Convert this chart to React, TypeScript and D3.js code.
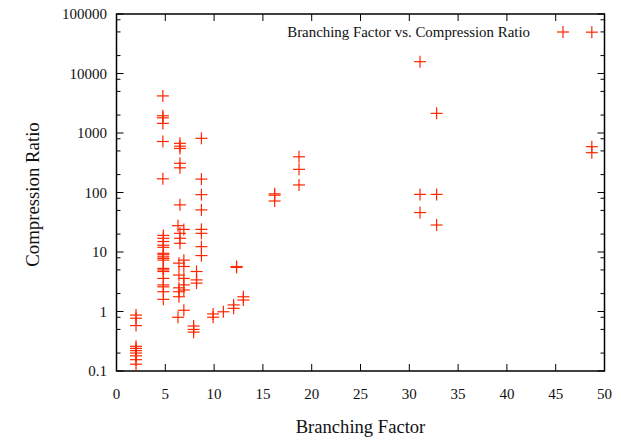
import React, { useRef, useEffect } from 'react'
import * as d3 from 'd3'

// branching factor (x) and compression ratio (y)
const branching = [
  2, 2, 2, 2, 2, 2, 2, 2, 2, 2,
  4.75, 4.75, 4.75, 4.75, 4.75, 4.75,
  4.8, 4.8, 4.8, 4.8, 4.8, 4.8, 4.8, 4.8, 4.8, 4.8, 4.8, 4.8, 4.8, 4.8, 4.8, 4.8, 4.8, 4.8,
  6.5, 6.5, 6.5, 6.5, 6.5, 6.5, 6.3, 6.5, 6.5, 6.5, 6.9,
  6.4, 6.4, 6.4, 6.4, 6.4, 6.3,
  6.9, 6.9, 6.9, 6.9, 6.9, 6.9,
  8.2, 8.2, 8.2, 7.9, 7.9, 7.9,
  8.7, 8.7, 8.7, 8.7, 8.7, 8.7, 8.7, 8.7,
  9.9, 9.9, 10.95, 12, 12, 13, 13, 12.3, 12.3,
  16.2, 16.2, 16.2, 18.7, 18.7, 18.7,
  31.1, 31.1, 31.1, 32.8, 32.8, 32.8,
  48.7, 48.7, 48.7,
]
const ratio = [
  0.87, 0.77, 0.58, 0.26, 0.24, 0.22, 0.2, 0.18, 0.155, 0.13,
  4200, 1950, 1800, 1450, 720, 170,
  19, 17, 15, 13, 12, 9.5, 9, 8.3, 7.8, 7.3, 5.3, 5, 4.7, 3.6, 2.8, 2.6, 2.15, 1.6,
  670, 600, 550, 310, 260, 62, 27.7, 20.6, 17, 14, 24,
  6.5, 4.1, 2.5, 2.15, 1.77, 0.8,
  7.3, 5.7, 3.6, 2.8, 2.3, 1.05,
  4.7, 3.4, 3.0, 0.57, 0.5, 0.45,
  813, 168, 92, 51, 24, 20.6, 12.3, 8.7,
  0.91, 0.8, 0.99, 1.29, 1.13, 1.77, 1.56, 5.5, 5.7,
  95, 90, 72, 398, 245, 134,
  15800, 93, 46, 2140, 93, 28.4,
  589, 467, 49500,
]
const xTicks = [0, 5, 10, 15, 20, 25, 30, 35, 40, 45, 50]
const yTicks = [0.1, 1, 10, 100, 1000, 10000, 100000]
const yTickLabels = ['0.1', '1', '10', '100', '1000', '10000', '100000']
const minorSteps = [2, 5, 8]
const legendLabel = 'Branching Factor vs. Compression Ratio'

const W = 621
const H = 440
const m = { left: 116.5, right: 604.5, top: 14, bottom: 371 }
const RED = '#ff2600'
const FONT = '"Liberation Serif", "Times New Roman", serif'

function plus(sel, size) {
  sel.append('line').attr('x1', -size).attr('x2', size).attr('y1', 0).attr('y2', 0)
  sel.append('line').attr('x1', 0).attr('x2', 0).attr('y1', -size).attr('y2', size)
}

export default function App() {
  const ref = useRef(null)

  useEffect(() => {
    const svg = d3.select(ref.current)
    svg.selectAll('*').remove()
    svg.attr('width', W).attr('height', H).style('background', '#fff')

    const x = d3.scaleLinear().domain([0, 50]).range([m.left, m.right])
    const y = d3.scaleLog().domain([0.1, 100000]).range([m.bottom, m.top])

    const axes = svg.append('g').attr('stroke', '#000')

    // ticks on all four sides, pointing inward
    xTicks.forEach(t => {
      axes.append('line').attr('x1', x(t)).attr('x2', x(t))
        .attr('y1', m.bottom).attr('y2', m.bottom - 7).attr('stroke-width', 1)
      axes.append('line').attr('x1', x(t)).attr('x2', x(t))
        .attr('y1', m.top).attr('y2', m.top + 7).attr('stroke-width', 1)
    })
    yTicks.forEach(t => {
      axes.append('line').attr('x1', m.left).attr('x2', m.left + 7)
        .attr('y1', y(t)).attr('y2', y(t)).attr('stroke-width', 1)
      axes.append('line').attr('x1', m.right).attr('x2', m.right - 7)
        .attr('y1', y(t)).attr('y2', y(t)).attr('stroke-width', 1)
    })
    yTicks.slice(0, -1).forEach(t => {
      minorSteps.forEach(s => {
        const v = t * s
        axes.append('line').attr('x1', m.left).attr('x2', m.left + 4)
          .attr('y1', y(v)).attr('y2', y(v)).attr('stroke-width', 1)
        axes.append('line').attr('x1', m.right).attr('x2', m.right - 4)
          .attr('y1', y(v)).attr('y2', y(v)).attr('stroke-width', 1)
      })
    })

    axes.append('rect')
      .attr('x', m.left).attr('y', m.top)
      .attr('width', m.right - m.left).attr('height', m.bottom - m.top)
      .attr('fill', 'none').attr('stroke-width', 1.5)

    const labels = svg.append('g').style('font-family', FONT).attr('fill', '#111')

    labels.selectAll('text.xt').data(xTicks).enter().append('text')
      .attr('class', 'xt')
      .attr('x', d => x(d)).attr('y', 399)
      .attr('text-anchor', 'middle').style('font-size', '15px')
      .text(d => d)

    labels.selectAll('text.yt').data(yTicks).enter().append('text')
      .attr('class', 'yt')
      .attr('x', 107).attr('y', d => y(d) + 5)
      .attr('text-anchor', 'end').style('font-size', '15px')
      .text((d, i) => yTickLabels[i])

    labels.append('text')
      .attr('x', (m.left + m.right) / 2).attr('y', 433)
      .attr('text-anchor', 'middle').style('font-size', '18.6px')
      .text('Branching Factor')

    labels.append('text')
      .attr('transform', `translate(39 ${(m.top + m.bottom) / 2 + 2}) rotate(-90)`)
      .attr('text-anchor', 'middle').style('font-size', '18.8px')
      .text('Compression Ratio')

    // key
    labels.append('text')
      .attr('x', 530).attr('y', 37)
      .attr('text-anchor', 'end').style('font-size', '14.9px')
      .text(legendLabel)
    svg.append('g')
      .attr('transform', 'translate(563 32)')
      .attr('stroke', RED).attr('stroke-width', 1.2)
      .call(g => plus(g, 6))

    const pts = svg.append('g').attr('stroke', RED).attr('stroke-width', 1.2)
    branching.forEach((b, i) => {
      pts.append('g')
        .attr('transform', `translate(${x(b)} ${y(ratio[i])})`)
        .call(g => plus(g, 6))
    })
  }, [])

  return (
    <div style={{ position: 'fixed', left: 0, top: 0 }}>
      <svg ref={ref} />
    </div>
  )
}
